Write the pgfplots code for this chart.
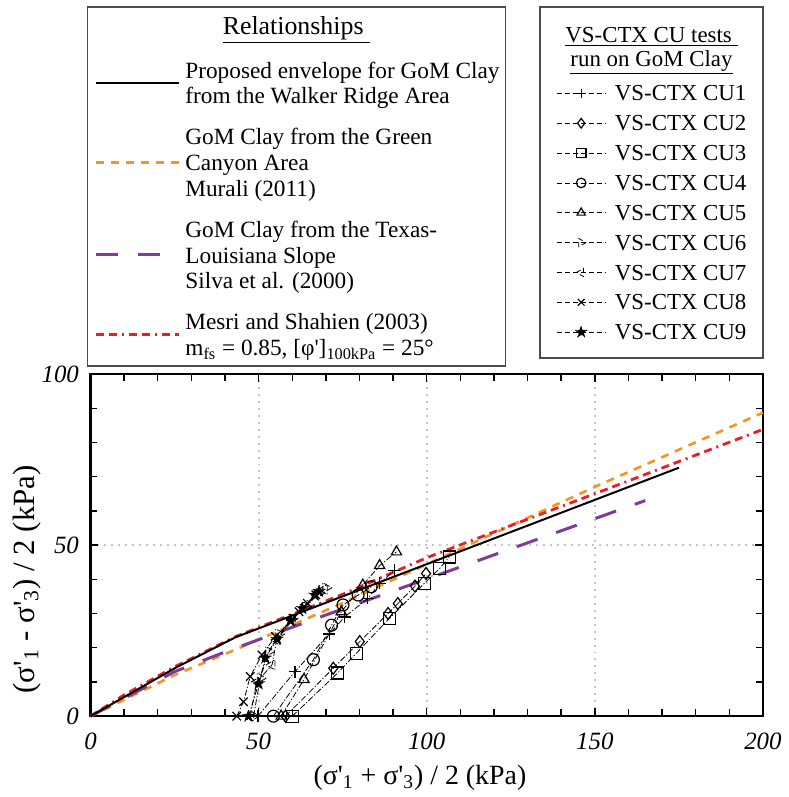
\documentclass[border=0pt]{standalone}
\usepackage{fontspec}
\setmainfont{Liberation Serif}
\usepackage{pgfplots}
\pgfplotsset{compat=1.18}
\usetikzlibrary{plotmarks}

\definecolor{gomorange}{RGB}{247,148,30}
\definecolor{gompurple}{RGB}{125,60,152}
\definecolor{gomred}{RGB}{237,28,36}

% filled five-pointed star
\pgfdeclareplotmark{fstar}{%
  \pgfpathmoveto{\pgfpointpolar{90}{1.2\pgfplotmarksize}}%
  \pgfpathlineto{\pgfpointpolar{126}{0.5\pgfplotmarksize}}%
  \pgfpathlineto{\pgfpointpolar{162}{1.2\pgfplotmarksize}}%
  \pgfpathlineto{\pgfpointpolar{198}{0.5\pgfplotmarksize}}%
  \pgfpathlineto{\pgfpointpolar{234}{1.2\pgfplotmarksize}}%
  \pgfpathlineto{\pgfpointpolar{270}{0.5\pgfplotmarksize}}%
  \pgfpathlineto{\pgfpointpolar{306}{1.2\pgfplotmarksize}}%
  \pgfpathlineto{\pgfpointpolar{342}{0.5\pgfplotmarksize}}%
  \pgfpathlineto{\pgfpointpolar{18}{1.2\pgfplotmarksize}}%
  \pgfpathlineto{\pgfpointpolar{54}{0.5\pgfplotmarksize}}%
  \pgfpathclose\pgfusepathqfillstroke}

\pgfplotsset{
  frame/.style={at={(0pt,0pt)}, anchor=south west,
    width=338pt, height=172pt, scale only axis,
    xmin=0, xmax=200, ymin=0, ymax=100, clip=false},
  cu/.style={black, line width=0.4pt,
    dash pattern=on 3pt off 1pt on 0.6pt off 1pt,
    mark size=3pt, mark options={solid, line width=0.6pt}},
}

\begin{document}
\begin{tikzpicture}
\begin{axis}[
  frame,
  xtick={0,50,100,150,200}, ytick={0,50,100},
  minor x tick num=4, minor y tick num=4,
  tick align=inside,
  major tick length=4pt, minor tick length=3.5pt,
  every tick/.style={black, line width=0.7pt},
  axis line style={line width=1.2pt},
  grid=major,
  major grid style={gray!45, line width=1pt, dash pattern=on 1pt off 2.5pt},
  ticklabel style={font=\fontsize{12.5}{14}\selectfont\itshape},
  /pgf/number format/assume math mode=true,
  xticklabel style={yshift=-5pt},
  yticklabel style={xshift=-2.3pt},
  every axis x label/.style={at={(axis description cs:0.49,-0.18)}, anchor=center,
    font=\fontsize{14}{16}\selectfont},
  every axis y label/.style={at={(axis description cs:-0.095,0.4)}, anchor=center,
    rotate=90, font=\fontsize{15.5}{17}\selectfont},
  xlabel={(σ\textquotesingle\textsubscript{1} + σ\textquotesingle\textsubscript{3}) / 2 (kPa)},
  ylabel={(σ\textquotesingle\textsubscript{1} - σ\textquotesingle\textsubscript{3}) / 2 (kPa)},
  legend cell align=left,
  legend image code/.code={\draw[#1] (0pt,1.5pt) -- (41.5pt,1.5pt);},
  legend style={at={(0.0059,1.919)}, anchor=north west, draw=none, fill=none,
    inner sep=0pt, row sep=7.5pt, column sep=2.5pt,
    nodes={inner sep=0pt, text depth=},
    font=\fontsize{11.7}{13}\selectfont},
]
\addlegendimage{black, line width=1pt}
\addlegendentry{\begin{tabular}{@{}l@{}}Proposed envelope for GoM Clay\\from the Walker Ridge Area\end{tabular}}
\addlegendimage{gomorange, line width=1.3pt, dash pattern=on 4pt off 3.5pt}
\addlegendentry{\begin{tabular}{@{}l@{}}GoM Clay from the Green\\Canyon Area\\Murali (2011)\end{tabular}}
\addlegendimage{gompurple, line width=1.5pt, dash pattern=on 11pt off 10pt}
\addlegendentry{\begin{tabular}{@{}l@{}}GoM Clay from the Texas-\\Louisiana Slope\\Silva et al. (2000)\end{tabular}}
\addlegendimage{gomred, line width=1.4pt, dash pattern=on 4pt off 2.5pt on 4pt off 2.5pt on 1pt off 2.5pt}
\addlegendentry{\begin{tabular}{@{}l@{}}Mesri and Shahien (2003)\\m\textsubscript{fs} = 0.85, [φ\textquotesingle]\textsubscript{100kPa} = 25°\end{tabular}}

% Murali (2011), Green Canyon
\addplot[gomorange, line width=1.3pt, dash pattern=on 4pt off 3.5pt, forget plot] coordinates {
  (0,0) (25,12) (43,19.4) (73.7,32.5) (150,67) (200,88.7)};
% Silva et al. (2000), Texas-Louisiana slope
\addplot[gompurple, line width=1.5pt, dash pattern=on 11pt off 10pt, forget plot] coordinates {
  (0,0) (25,13) (38,18) (65,27.8) (110,43.6) (165,63)};
% Mesri and Shahien (2003)
\addplot[gomred, line width=1.4pt, dash pattern=on 4pt off 2.5pt on 4pt off 2.5pt on 1pt off 2.5pt, forget plot] coordinates {
  (0,0) (10,6.2) (25,14.4) (43,23.2) (75,35.6) (100,46.3) (125,55.7) (150,65) (175,74.4) (200,83.8)};
% proposed envelope, Walker Ridge
\addplot[black, line width=1pt, forget plot] coordinates {
  (0,0) (25.6,14.3) (43,23) (175,72.6)};
\end{axis}

\begin{axis}[
  frame, hide axis,
  legend cell align=left,
  legend image code/.code={\draw[#1, dash pattern=on 2.5pt off 1.5pt, mark size=2.4pt,
    mark repeat=2, mark phase=2] plot coordinates {(0pt,1.2pt) (12.25pt,1.2pt) (24.5pt,1.2pt)};},
  legend style={at={(0.6923,1.852)}, anchor=north west, draw=none, fill=none,
    inner sep=0pt, row sep=2pt, column sep=4.5pt,
    nodes={inner sep=0pt, text depth=},
    font=\fontsize{11.5}{13}\selectfont},
]
\addplot[cu, mark=+] coordinates {
  (49.8,0) (60.8,13) (71,24) (75.6,29) (82.5,34.4) (86,38.8) (90.4,42.6)};
\addlegendentry{\strut VS-CTX CU1}
\addplot[cu, mark=diamond] coordinates {
  (58,0) (72.2,14) (80.1,21.8) (88.5,30) (91.4,32.9) (96.5,38) (99.8,41.7)};
\addlegendentry{\strut VS-CTX CU2}
\addplot[cu, mark=square] coordinates {
  (60,0) (73.5,12.6) (79.1,18.4) (88.9,28.6) (99.3,38.8) (103.8,43.1) (106.7,46.5)};
\addlegendentry{\strut VS-CTX CU3}
\addplot[cu, mark=o] coordinates {
  (54.4,0) (66.3,16.5) (71.7,26.6) (75.1,32.5) (79.6,35.4) (83.5,37.8)};
\addlegendentry{\strut VS-CTX CU4}
\addplot[cu, mark=triangle] coordinates {
  (56.7,0) (63.5,10.7) (74.6,30.5) (81,38.3) (86,44) (91,48)};
\addlegendentry{\strut VS-CTX CU5}
\addplot[cu, mark=triangle, mark options={rotate=-90}] coordinates {
  (48.5,0) (50.5,11.1) (53,18.9) (56,24) (60,28.5) (64,32) (68,36) (70,37.5)};
\addlegendentry{\strut VS-CTX CU6}
\addplot[cu, mark=triangle, mark options={rotate=90}] coordinates {
  (47.5,0) (49.5,10) (54,15) (55.4,22.3) (60,28) (64,32.5) (69.5,37)};
\addlegendentry{\strut VS-CTX CU7}
\addplot[cu, mark=x] coordinates {
  (43.5,0) (45.5,4.2) (47.5,11.6) (51,17.9) (55,23.3) (59.4,27.6) (62,30.5) (64.5,33) (67,35.5)};
\addlegendentry{\strut VS-CTX CU8}
\addplot[cu, mark=fstar, mark size=2.5pt, mark options={fill=black}] coordinates {
  (47,0) (50,9.5) (52,17) (55.5,22.5) (59.5,28) (63,31.5) (66.7,35.4) (68,36.5)};
\addlegendentry{\strut VS-CTX CU9}
\end{axis}

% legend frames and titles
\draw[gray!60!black, line width=0.8pt] (-1.5pt,176pt) rectangle (208.5pt,356.5pt);
\draw[gray!60!black, line width=0.8pt] (226pt,180pt) rectangle (338pt,356.5pt);
\node[font=\fontsize{13}{15}\selectfont] at (103.5pt,345pt) {\underline{Relationships\ }};
\node[font=\fontsize{11.5}{13}\selectfont] at (282pt,341.5pt) {\underline{VS-CTX CU tests\ }};
\node[font=\fontsize{11.5}{13}\selectfont] at (282pt,328.5pt) {\underline{run on GoM Clay}};
\path (-45.5pt,-38.5pt) rectangle (348.5pt,360pt);
\end{tikzpicture}
\end{document}
